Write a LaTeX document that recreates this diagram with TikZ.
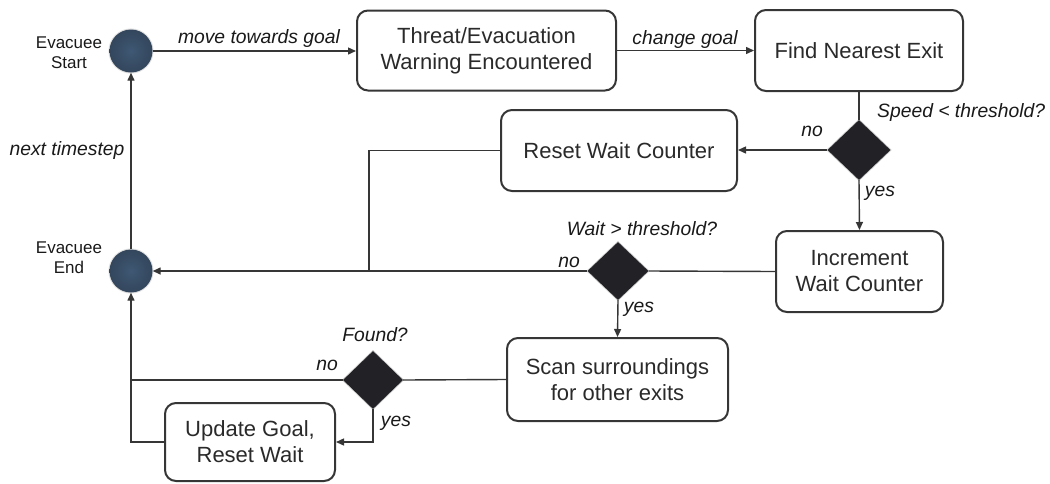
\documentclass[tikz,border=0pt]{standalone}
\usepackage{fontspec}
\setmainfont{Liberation Sans}
\usetikzlibrary{shapes.geometric,arrows.meta,shadows}
\definecolor{lnc}{HTML}{363636}
\definecolor{txc}{HTML}{2A2A2A}
\definecolor{circin}{HTML}{3F5874}
\definecolor{circout}{HTML}{33465C}
\definecolor{dia}{HTML}{222226}
\begin{document}
\begin{tikzpicture}[x=1pt,y=-1pt,
  box/.style={draw=lnc,line width=2pt,rounded corners=11pt,fill=white,
    align=center,inner sep=0pt,text=txc,font=\fontsize{22}{26}\selectfont},
  dec/.style={diamond,fill=dia,draw=none,inner sep=0pt,
    general shadow={shadow scale=1.04,fill=black,opacity=0.2}},
  evc/.style={circle,inner sep=0pt,minimum size=43pt,inner color=circin,outer color=circout,
    general shadow={shadow scale=1.05,fill=black,opacity=0.12}},
  lab/.style={font=\fontsize{19.3}{22}\selectfont\itshape,text=black!90,inner sep=0pt},
  clab/.style={font=\fontsize{17}{20}\selectfont,align=center,text=black!90,inner sep=0pt},
  conn/.style={draw=lnc,line width=1.4pt},
  arr/.style={conn,-{Triangle[length=8pt,width=7pt]}}]
\useasboundingbox (0,0) rectangle (1050,483);
% circles
\node[evc] (start) at (131,51) {};
\node[evc] (endc) at (131,271) {};
\node[clab] (startl) at (69,53) {Evacuee\\Start};
\node[clab] (endl) at (69,258) {Evacuee\\End};
% boxes
\node[box,minimum width=259pt,minimum height=80pt] (b1) at (486.5,50.5) {Threat/Evacuation\\Warning Encountered};
\node[box,minimum width=208pt,minimum height=81pt] (b2) at (859,50.5) {Find Nearest Exit};
\node[box,minimum width=236pt,minimum height=81pt] (reset) at (619,150.5) {Reset Wait Counter};
\node[box,minimum width=167pt,minimum height=81pt] (inc) at (859.5,271.5) {Increment\\Wait Counter};
\node[box,minimum width=221pt,minimum height=83pt] (scan) at (617.5,379.5) {Scan surroundings\\for other exits};
\node[box,minimum width=170pt,minimum height=78pt] (upd) at (250,442) {Update Goal,\\Reset Wait};
% diamonds
\node[dec,minimum width=63pt,minimum height=60pt] (d1) at (859,150) {};
\node[dec,minimum width=61pt,minimum height=58pt] (d2) at (618,271) {};
\node[dec,minimum width=60pt,minimum height=58pt] (d3) at (373,380) {};
% junction points
\coordinate (j1) at (369,151);
\coordinate (j2) at (369,271);
\coordinate (j3) at (131,380);
% connectors
\draw[arr] (start.east) -- (start.east -| b1.west);
\node[lab] (l1) at (259,39) {move towards goal};
\draw[arr] (b1.east) -- (b1.east -| b2.west);
\node[lab] (l2) at (685,40) {change goal};
\draw[conn] (b2.south) -- (d1.north);
\node[lab,anchor=west] (l3) at (877,113) {Speed < threshold?};
\draw[arr] (d1.west) -- (d1.west -| reset.east);
\node[lab] (l4) at (812,131) {no};
\draw[arr] (d1.south) -- (inc.north);
\node[lab] (l5) at (880,193) {yes};
\draw[conn] (reset.west) -- (reset.west -| j1) -- (j2);
\draw[conn] (inc.west) -- (d2.east);
\draw[arr] (d2.west) -- (endc.east);
\node[lab] (l6) at (569,262) {no};
\node[lab] (l7) at (642,229) {Wait > threshold?};
\draw[arr] (d2.south) -- (scan.north);
\node[lab] (l8) at (639,309) {yes};
\draw[conn] (scan.west) -- (d3.east);
\draw[conn] (d3.west) -- (j3);
\node[lab] (l9) at (327,365) {no};
\node[lab] (l10) at (375,335) {Found?};
\draw[arr] (d3.south) |- (upd.east);
\node[lab] (l11) at (396,423) {yes};
\draw[arr] (upd.west) -| (endc.south);
\draw[arr] (endc.north) -- (start.south);
\node[lab] (l12) at (67,151) {next timestep};
\end{tikzpicture}
\end{document}
